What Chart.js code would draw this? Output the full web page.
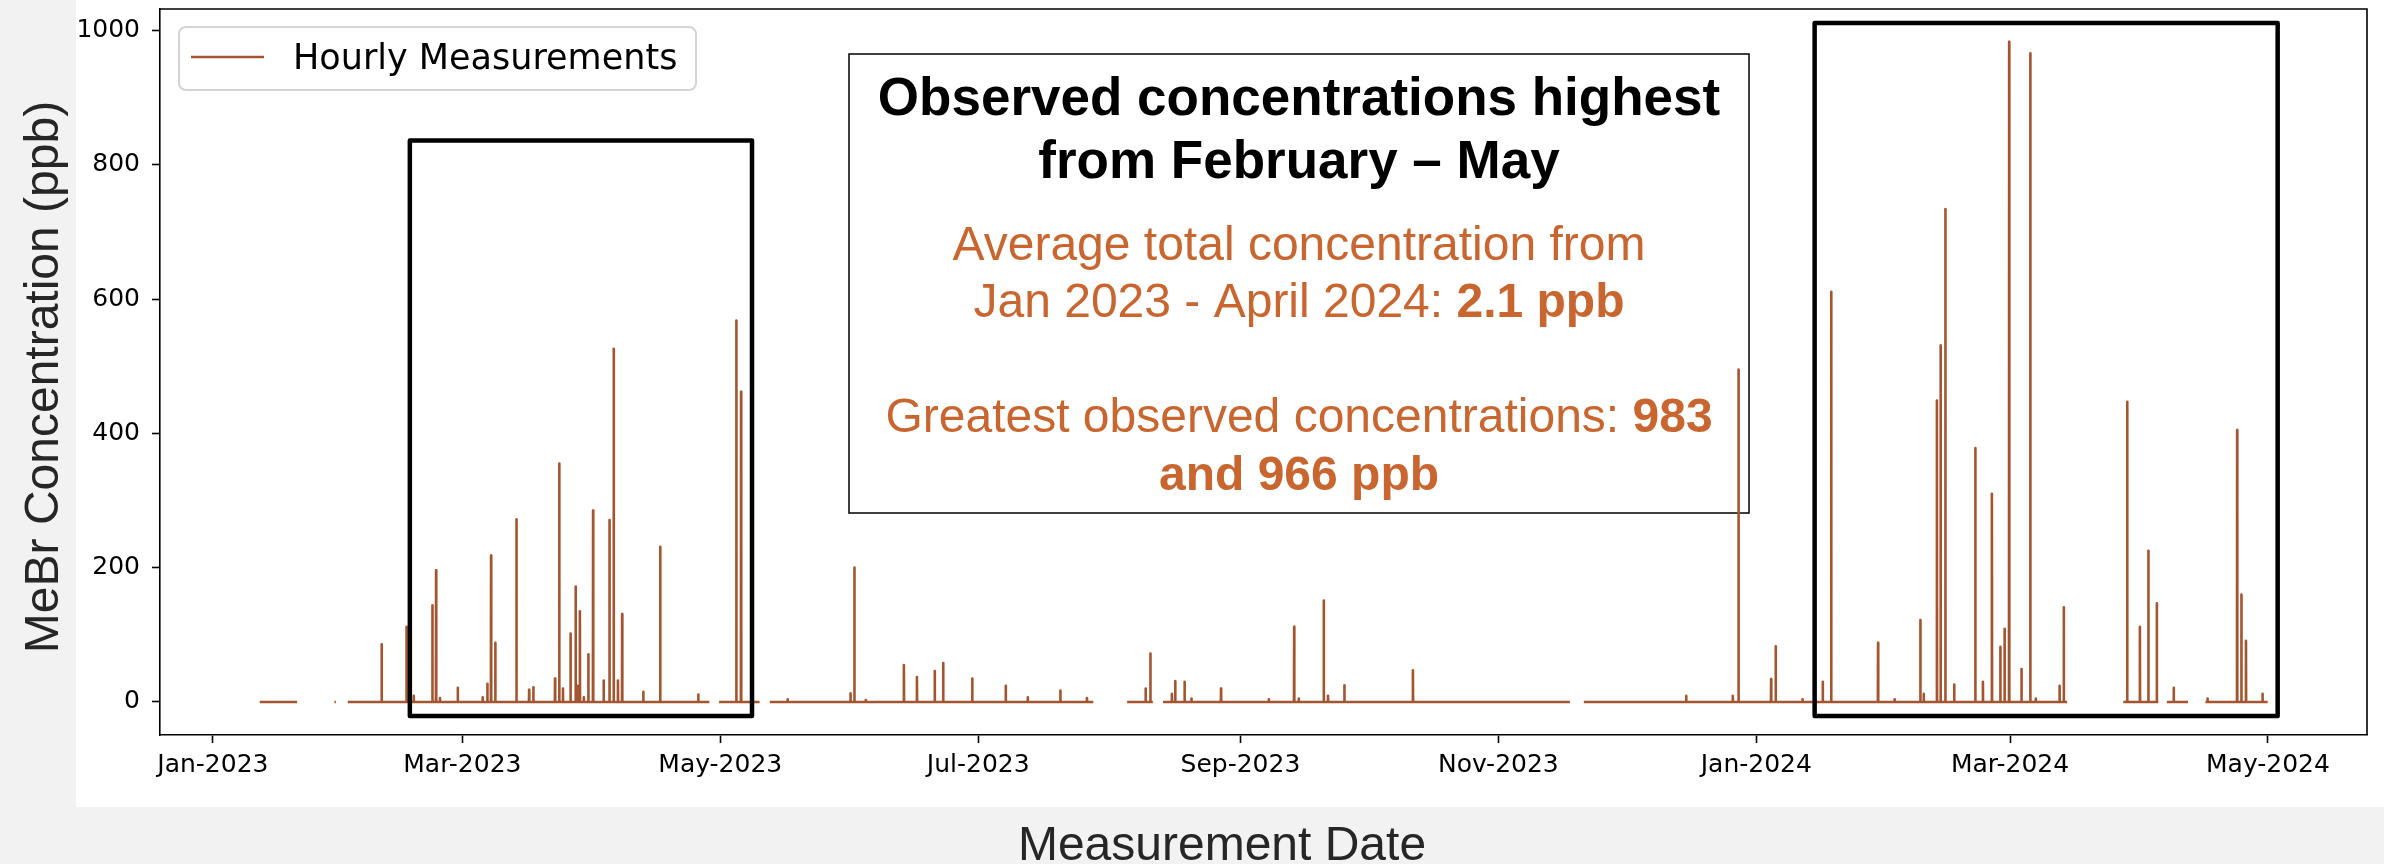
<!DOCTYPE html>
<html>
<head>
<meta charset="utf-8">
<title>MeBr hourly measurements</title>
<script src="https://cdn.jsdelivr.net/npm/chart.js@4.4.1/dist/chart.umd.min.js"></script>
<style>
  html, body { margin: 0; padding: 0; background: #f2f2f2; }
  canvas { display: block; }
</style>
</head>
<body>
<canvas id="chart1" width="2384" height="864"></canvas>
<script>
'use strict';

// periods with data (the monitor was offline in between)
const segStarts = [
  '2023-01-12T02:00', '2023-01-29T18:00', '2023-02-01T22:00', '2023-04-30T17:00',
  '2023-05-12T17:00', '2023-08-05T05:00', '2023-08-13T17:00', '2023-11-21T05:00',
  '2024-03-27T19:00', '2024-04-07T02:00', '2024-04-16T05:00'
];
const segEnds = [
  '2023-01-20T22:00', '2023-01-30T02:00', '2023-04-28T10:00', '2023-05-10T07:00',
  '2023-07-28T05:00', '2023-08-11T07:00', '2023-11-17T22:00', '2024-03-14T12:00',
  '2024-04-05T02:00', '2024-04-12T02:00', '2024-04-30T22:00'
];

// hourly peaks (ppb), baseline is ~0 elsewhere
const peakTimes = [
  '2023-02-09T22:00', '2023-02-15T19:00', '2023-02-17T12:00', '2023-02-21T22:00',
  '2023-02-22T19:00', '2023-02-23T17:00', '2023-02-27T22:00', '2023-03-05T19:00',
  '2023-03-06T22:00', '2023-03-07T19:00', '2023-03-08T19:00', '2023-03-13T19:00',
  '2023-03-16T19:00', '2023-03-17T19:00', '2023-03-22T22:00', '2023-03-23T22:00',
  '2023-03-24T19:00', '2023-03-26T14:00', '2023-03-27T19:00', '2023-03-28T05:00',
  '2023-03-28T19:00', '2023-03-29T17:00', '2023-03-30T19:00', '2023-03-31T22:00',
  '2023-04-03T10:00', '2023-04-04T19:00', '2023-04-05T19:00', '2023-04-06T19:00',
  '2023-04-07T19:00', '2023-04-12T19:00', '2023-04-16T19:00', '2023-04-25T19:00',
  '2023-05-04T19:00', '2023-05-05T22:00', '2023-05-16T22:00', '2023-05-31T19:00',
  '2023-06-01T17:00', '2023-06-04T10:00', '2023-06-13T10:00', '2023-06-16T12:00',
  '2023-06-20T17:00', '2023-06-22T17:00', '2023-06-29T14:00', '2023-07-07T12:00',
  '2023-07-12T17:00', '2023-07-20T10:00', '2023-07-26T17:00', '2023-08-09T14:00',
  '2023-08-10T17:00', '2023-08-15T19:00', '2023-08-16T14:00', '2023-08-18T19:00',
  '2023-08-20T10:00', '2023-08-27T10:00', '2023-09-07T17:00', '2023-09-13T17:00',
  '2023-09-14T19:00', '2023-09-20T17:00', '2023-09-21T17:00', '2023-09-25T14:00',
  '2023-10-11T19:00', '2023-12-15T10:00', '2023-12-26T10:00', '2023-12-27T19:00',
  '2024-01-04T12:00', '2024-01-05T14:00', '2024-01-11T22:00', '2024-01-16T17:00',
  '2024-01-18T17:00', '2024-01-29T19:00', '2024-02-02T17:00', '2024-02-08T19:00',
  '2024-02-09T14:00', '2024-02-12T17:00', '2024-02-13T14:00', '2024-02-14T17:00',
  '2024-02-16T19:00', '2024-02-21T19:00', '2024-02-23T14:00', '2024-02-25T17:00',
  '2024-02-27T17:00', '2024-02-28T17:00', '2024-02-29T19:00', '2024-03-03T17:00',
  '2024-03-05T19:00', '2024-03-07T02:00', '2024-03-12T17:00', '2024-03-13T17:00',
  '2024-03-28T17:00', '2024-03-31T17:00', '2024-04-02T17:00', '2024-04-04T17:00',
  '2024-04-08T17:00', '2024-04-16T17:00', '2024-04-23T17:00', '2024-04-24T17:00',
  '2024-04-25T19:00', '2024-04-29T17:00'
];
const peakValues = [
  86, 112, 9, 144,
  196, 6, 21, 7,
  27, 218, 88, 272,
  18, 22, 35, 355,
  20, 102, 172, 24,
  135, 7, 71, 285,
  32, 271, 526, 32,
  131, 15, 231, 11,
  568, 462, 4, 13,
  200, 3, 55, 37,
  46, 58, 35, 24,
  7, 17, 6, 20,
  72, 12, 31, 30,
  5, 20, 4, 112,
  5, 151, 9, 25,
  47, 9, 9, 495,
  34, 83, 4, 30,
  611, 88, 4, 122,
  12, 449, 531, 734,
  26, 378, 30, 310,
  82, 109, 983, 49,
  966, 5, 24, 141,
  447, 112, 225, 147,
  21, 5, 405, 160,
  91, 12
];

const xTickDates = ['2023-01-01', '2023-03-01', '2023-05-01', '2023-07-01', '2023-09-01',
                    '2023-11-01', '2024-01-01', '2024-03-01', '2024-05-01'];
const xTickLabels = ['Jan-2023', 'Mar-2023', 'May-2023', 'Jul-2023', 'Sep-2023',
                     'Nov-2023', 'Jan-2024', 'Mar-2024', 'May-2024'];
const yTicks = [0, 200, 400, 600, 800, 1000];

// highlighted Feb-May windows (data coords)
const boxStarts = ['2023-02-16T14:00', '2024-01-14T19:00'];
const boxEnds = ['2023-05-08T12:00', '2024-05-03T07:00'];
const boxTops = [836, 1011];
const boxBottom = -21;

const lineColor = '#a3552f';
const noteColor = '#c9652e';
const HOUR = 3600 * 1000;
const SANS = "'Liberation Sans', Arial, sans-serif";
const DJV = "'DejaVu Sans', sans-serif";

function ms(s) {
  return Date.parse(s + ':00Z');
}

function buildSeries() {
  const pts = [];
  for (let i = 0; i < segStarts.length; i++) {
    const a = ms(segStarts[i]);
    const b = ms(segEnds[i]);
    pts.push({ x: a, y: 0 });
    peakTimes.forEach((t, j) => {
      const p = ms(t);
      if (p > a && p < b) {
        pts.push({ x: p - HOUR, y: 0 }, { x: p, y: peakValues[j] }, { x: p + HOUR, y: 0 });
      }
    });
    pts.push({ x: b, y: 0 });
    pts.push({ x: b + HOUR, y: null });
  }
  return pts;
}

function drawRuns(c, runs, cx, y, size, color) {
  let total = 0;
  runs.forEach(r => {
    c.font = (r[1] ? 'bold ' : '') + size + 'px ' + SANS;
    total += c.measureText(r[0]).width;
  });
  let x = cx - total / 2;
  c.fillStyle = color;
  runs.forEach(r => {
    c.font = (r[1] ? 'bold ' : '') + size + 'px ' + SANS;
    c.fillText(r[0], x, y);
    x += c.measureText(r[0]).width;
  });
}

// fixed axis boxes so the plot area lands where the original has it
function fixPad(s) {
  s.paddingTop = 0;
  s.paddingBottom = 0;
  s.paddingLeft = 0;
  s.paddingRight = 0;
}

const figurePlugin = {
  id: 'figure',
  beforeDraw(chart) {
    const c = chart.ctx;
    c.save();
    c.fillStyle = '#f2f2f2';
    c.fillRect(0, 0, chart.width, chart.height);
    c.fillStyle = '#ffffff';
    c.fillRect(76, 0, chart.width - 76, 807);
    c.restore();
  },
  beforeDatasetsDraw(chart) {
    // text box sits under the data line
    const c = chart.ctx;
    const L = 849, T = 54, R = 1749, B = 513;
    const cx = (L + R) / 2;
    c.save();
    c.fillStyle = '#ffffff';
    c.fillRect(L, T, R - L, B - T);
    c.strokeStyle = '#000';
    c.lineWidth = 1.5;
    c.strokeRect(L, T, R - L, B - T);
    c.textBaseline = 'alphabetic';
    c.textAlign = 'left';
    drawRuns(c, [['Observed concentrations highest', true]], cx, 115, 53, '#000');
    drawRuns(c, [['from February \u2013 May', true]], cx, 178, 53, '#000');
    drawRuns(c, [['Average total concentration from', false]], cx, 260, 48, noteColor);
    drawRuns(c, [['Jan 2023 - April 2024: ', false], ['2.1 ppb', true]], cx, 317, 48, noteColor);
    drawRuns(c, [['Greatest observed concentrations: ', false], ['983', true]], cx, 432, 48, noteColor);
    drawRuns(c, [['and 966 ppb', true]], cx, 490, 48, noteColor);
    c.restore();
  },
  afterDatasetsDraw(chart) {
    const c = chart.ctx;
    const xs = chart.scales.x, ys = chart.scales.y;
    const a = chart.chartArea;
    c.save();
    // Feb-May boxes
    c.strokeStyle = '#000';
    c.lineWidth = 4.5;
    c.lineJoin = 'round';
    for (let i = 0; i < boxStarts.length; i++) {
      const x0 = xs.getPixelForValue(ms(boxStarts[i]));
      const x1 = xs.getPixelForValue(ms(boxEnds[i]));
      const y0 = ys.getPixelForValue(boxTops[i]);
      const y1 = ys.getPixelForValue(boxBottom);
      c.strokeRect(x0, y0, x1 - x0, y1 - y0);
    }
    // top and right spines
    c.lineWidth = 1.6;
    c.lineJoin = 'miter';
    c.beginPath();
    c.moveTo(a.left, a.top);
    c.lineTo(a.right, a.top);
    c.lineTo(a.right, a.bottom);
    c.stroke();
    // legend
    c.fillStyle = 'rgba(255,255,255,0.85)';
    c.strokeStyle = '#d4d4d4';
    c.lineWidth = 2;
    c.beginPath();
    c.roundRect(179, 27, 517, 63, 7);
    c.fill();
    c.stroke();
    c.strokeStyle = lineColor;
    c.lineWidth = 2.6;
    c.beginPath();
    c.moveTo(191, 57);
    c.lineTo(264, 57);
    c.stroke();
    c.fillStyle = '#000';
    c.font = '35px ' + DJV;
    c.textBaseline = 'alphabetic';
    c.fillText('Hourly Measurements', 293, 69);
    c.restore();
  },
  afterDraw(chart) {
    const c = chart.ctx;
    c.save();
    c.fillStyle = '#262626';
    c.font = '48px ' + SANS;
    c.textAlign = 'center';
    c.textBaseline = 'alphabetic';
    c.fillText('Measurement Date', 1222, 860);
    c.translate(58, 377);
    c.rotate(-Math.PI / 2);
    c.fillText('MeBr Concentration (ppb)', 0, 0);
    c.restore();
  }
};

window.addEventListener('load', run);

function run() {
  const ctx = document.getElementById('chart1').getContext('2d');
  const myChart = new Chart(ctx, {
    type: 'line',
    data: {
      datasets: [
        {
          label: 'Hourly Measurements',
          data: buildSeries(),
          borderColor: lineColor,
          borderWidth: 2.6,
          borderJoinStyle: 'round',
          pointRadius: 0,
          fill: false,
          tension: 0,
          spanGaps: false
        }
      ]
    },
    options: {
      responsive: false,
      animation: false,
      devicePixelRatio: 1,
      layout: { padding: { left: 0, right: 17, top: 9, bottom: 0 } },
      plugins: { legend: { display: false }, tooltip: { enabled: false } },
      scales: {
        x: {
          type: 'linear',
          min: ms('2022-12-19T12:00'),
          max: ms('2024-05-24T10:00'),
          afterBuildTicks: s => { s.ticks = xTickDates.map(d => ({ value: ms(d + 'T00:00') })); },
          afterFit: s => { s.height = 129; fixPad(s); },
          ticks: {
            callback: (v, i) => xTickLabels[i],
            font: { family: DJV, size: 25 },
            color: '#000',
            padding: 7,
            maxRotation: 0,
            autoSkip: false
          },
          grid: { drawOnChartArea: false, tickLength: 8, tickColor: '#000', tickWidth: 1.6 },
          border: { color: '#000', width: 1.6 }
        },
        y: {
          min: -49.2,
          max: 1032,
          afterBuildTicks: s => { s.ticks = yTicks.map(v => ({ value: v })); },
          afterFit: s => { s.width = 160; fixPad(s); },
          ticks: {
            callback: v => String(v),
            font: { family: DJV, size: 25 },
            color: '#000',
            padding: 12
          },
          grid: { drawOnChartArea: false, tickLength: 8, tickColor: '#000', tickWidth: 1.6 },
          border: { color: '#000', width: 1.6 }
        }
      }
    },
    plugins: [figurePlugin]
  });
}
</script>
</body>
</html>
